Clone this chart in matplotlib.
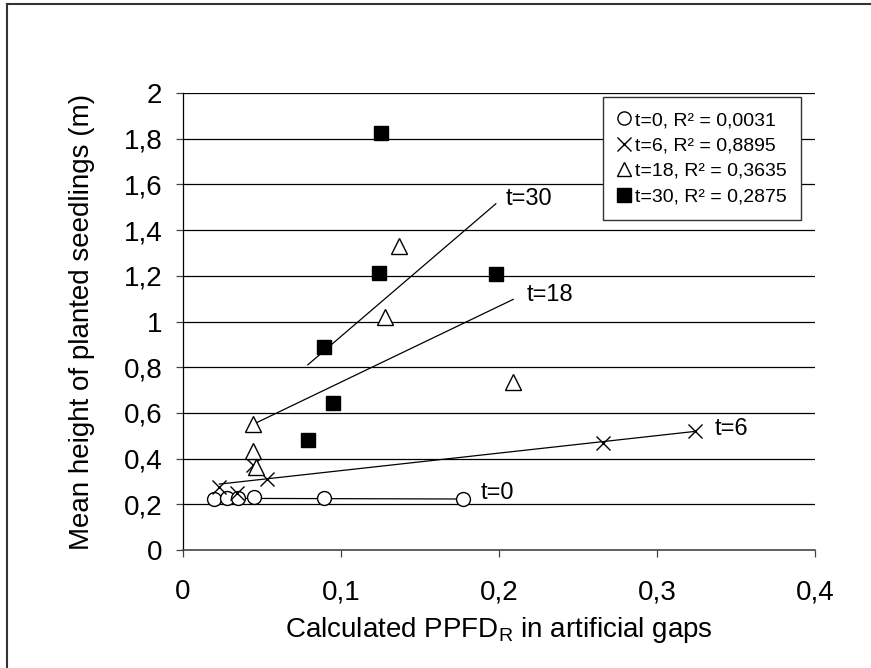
import numpy as np
import matplotlib
matplotlib.use("Agg")
import matplotlib.pyplot as plt
from matplotlib.lines import Line2D

plt.rcParams['font.family'] = ['Liberation Sans', 'DejaVu Sans']
plt.rcParams['mathtext.fontset'] = 'custom'
plt.rcParams['mathtext.rm'] = 'Liberation Sans'
plt.rcParams['mathtext.it'] = 'Liberation Sans:italic'

# ---- data ----
x_t0 = [0.0196, 0.028, 0.035, 0.045, 0.089, 0.177]
y_t0 = [0.222, 0.226, 0.226, 0.230, 0.226, 0.222]

x_t6 = [0.023, 0.034, 0.044, 0.053, 0.266, 0.324]
y_t6 = [0.275, 0.250, 0.370, 0.310, 0.470, 0.520]

x_t18 = [0.044, 0.044, 0.046, 0.128, 0.137, 0.209]
y_t18 = [0.550, 0.435, 0.365, 1.020, 1.330, 0.735]

x_t30 = [0.079, 0.089, 0.095, 0.124, 0.125, 0.198]
y_t30 = [0.480, 0.887, 0.644, 1.213, 1.826, 1.210]

legend_labels = ["t=0, R² = 0,0031", "t=6, R² = 0,8895",
                 "t=18, R² = 0,3635", "t=30, R² = 0,2875"]
line_labels = ["t=0", "t=6", "t=18", "t=30"]

x_ticks = [0, 0.1, 0.2, 0.3, 0.4]
x_ticklabels = ["0", "0,1", "0,2", "0,3", "0,4"]
y_ticks = [0, 0.2, 0.4, 0.6, 0.8, 1.0, 1.2, 1.4, 1.6, 1.8, 2.0]
y_ticklabels = ["0", "0,2", "0,4", "0,6", "0,8", "1", "1,2", "1,4", "1,6", "1,8", "2"]

W, H = 871, 668
fig = plt.figure(figsize=(W / 100, H / 100), dpi=100)
ax = fig.add_axes([183 / W, 1 - 550 / H, (815 - 183) / W, (550 - 93) / H])

ax.set_xlim(0, 0.4)
ax.set_ylim(0, 2)
for yt in y_ticks[1:]:
    ax.axhline(yt, color='black', lw=0.9, zorder=1)

series = [
    (x_t0, y_t0, dict(marker='o', mfc='white', mec='black', ms=10, mew=1.0)),
    (x_t6, y_t6, dict(marker='x', color='black', ms=10, mew=1.0)),
    (x_t18, y_t18, dict(marker='^', mfc='white', mec='black', ms=11, mew=1.0)),
    (x_t30, y_t30, dict(marker='s', color='black', mfc='black', mec='black', ms=10)),
]
offsets = [(18, 6), (20, 2), (13, 4), (10, 5)]

handles = []
for (xs, ys, style), lab, off in zip(series, line_labels, offsets):
    xs = np.array(xs); ys = np.array(ys)
    h, = ax.plot(xs, ys, ls='none', zorder=4, **style)
    handles.append(h)
    k, b = np.polyfit(xs, ys, 1)
    xx = np.array([xs.min(), xs.max()])
    ax.plot(xx, k * xx + b, color='black', lw=0.9, zorder=3)
    ax.annotate(lab, xy=(xx[1], k * xx[1] + b), xytext=off,
                textcoords='offset pixels', fontsize=17, ha='left', va='center')

ax.set_xticks(x_ticks)
ax.set_xticklabels(x_ticklabels)
ax.set_yticks(y_ticks)
ax.set_yticklabels(y_ticklabels)
ax.tick_params(axis='both', labelsize=20, length=5, width=0.9, color='#444444', direction='out')
ax.tick_params(axis='y', pad=10)
ax.tick_params(axis='x', pad=16)
for s in ['top', 'right']:
    ax.spines[s].set_visible(False)
ax.spines['left'].set_color('black')
ax.spines['left'].set_linewidth(0.9)
ax.spines['bottom'].set_color('#444444')
ax.spines['bottom'].set_linewidth(1.2)

ax.set_ylabel("Mean height of planted seedlings (m)", fontsize=20)
ax.yaxis.set_label_coords((95 - 183) / (815 - 183), 0.5)
ax.set_xlabel("Calculated PPFD$_\\mathrm{R}$ in artificial gaps", fontsize=20)
ax.xaxis.set_label_coords(0.5, -(615 - 550) / (550 - 93))

legend_markers = [Line2D([], [], ls='none', marker=h.get_marker(), mfc=h.get_markerfacecolor(),
                         mec=h.get_markeredgecolor(), ms=h.get_markersize() * 0.95,
                         mew=h.get_markeredgewidth()) for h in handles]
leg = ax.legend(legend_markers, legend_labels, loc='upper left',
                bbox_to_anchor=(603 / W, 1 - 97 / H), bbox_transform=fig.transFigure,
                fontsize=14, frameon=True, fancybox=False, framealpha=1,
                edgecolor='#333333', handlelength=0.7, handletextpad=0.2,
                labelspacing=0.4, borderpad=0.75, borderaxespad=0)
leg.get_frame().set_linewidth(1.0)

# outer border (left and top edges visible)
fig.add_artist(Line2D([7 / W, 7 / W], [0, 1 - 4 / H], transform=fig.transFigure,
                      color='#333333', lw=1.5))
fig.add_artist(Line2D([7 / W, 1], [1 - 4 / H, 1 - 4 / H], transform=fig.transFigure,
                      color='#333333', lw=1.5))

fig.savefig("out.png", dpi=100)
